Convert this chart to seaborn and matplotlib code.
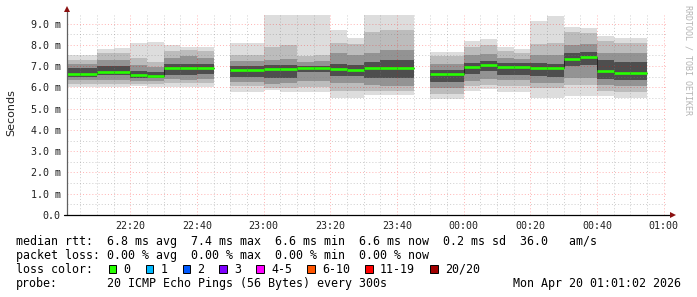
import numpy as np
import pandas as pd
import matplotlib
matplotlib.use("Agg")
import matplotlib.pyplot as plt
import seaborn as sns
from matplotlib.patches import Rectangle

# ---------------- data (5-minute bins, values in ms) ----------------
bin_start = ["22:00", "22:05", "22:10", "22:15", "22:20", "22:25", "22:30", "22:35",
             "22:40", "22:45", "22:50", "22:55", "23:00", "23:05", "23:10", "23:15",
             "23:20", "23:25", "23:30", "23:35", "23:40", "23:45", "23:50", "23:55",
             "00:00", "00:05", "00:10", "00:15", "00:20", "00:25", "00:30", "00:35",
             "00:40", "00:45", "00:50"]
nan = np.nan
rtt_max = [7.54, 7.54, 7.79, 7.86, 8.07, 8.12, 8.01, 7.90, 7.90, nan, 8.07, 8.07,
           9.60, 9.60, 9.60, 9.60, 8.69, 8.34, 9.60, 9.60, 9.60, nan, 7.64, 7.64,
           8.17, 8.26, 7.90, 7.78, 9.12, 9.34, 8.84, 8.80, 8.42, 8.31, 8.31]
rtt_hi2 = [7.28, 7.28, 7.60, 7.62, 7.40, 7.20, 7.72, 7.75, 7.72, nan, 7.50, 7.50,
           7.90, 8.00, 7.45, 7.50, 8.10, 8.05, 8.60, 8.70, 8.70, nan, 7.45, 7.45,
           7.90, 8.00, 7.70, 7.62, 8.05, 8.10, 8.60, 8.55, 8.20, 8.10, 8.10]
rtt_hi3 = [7.10, 7.10, 7.30, 7.30, 7.05, 6.95, 7.40, 7.45, 7.40, nan, 7.25, 7.25,
           7.30, 7.35, 7.20, 7.25, 7.60, 7.50, 7.60, 7.75, 7.75, nan, 7.10, 7.10,
           7.50, 7.55, 7.40, 7.35, 7.50, 7.50, 8.00, 8.05, 7.60, 7.60, 7.60]
rtt_hi4 = [6.90, 6.90, 6.98, 7.00, 6.78, 6.70, 7.10, 7.10, 7.08, nan, 7.02, 7.02,
           7.05, 7.05, 7.02, 7.02, 7.10, 7.05, 7.20, 7.30, 7.30, nan, 6.80, 6.80,
           7.15, 7.25, 7.15, 7.15, 7.15, 7.10, 7.60, 7.65, 7.30, 7.20, 7.20]
rtt_median = [6.63, 6.63, 6.72, 6.74, 6.58, 6.55, 6.89, 6.92, 6.92, nan, 6.83, 6.83,
              6.84, 6.84, 6.90, 6.90, 6.84, 6.80, 6.89, 6.89, 6.89, nan, 6.61, 6.61,
              6.96, 7.04, 6.97, 6.97, 6.93, 6.90, 7.35, 7.43, 6.77, 6.66, 6.66]
rtt_lo4 = [6.50, 6.50, 6.57, 6.57, 6.46, 6.45, 6.60, 6.60, 6.62, nan, 6.50, 6.50,
           6.45, 6.45, 6.70, 6.70, 6.55, 6.55, 6.45, 6.45, 6.45, nan, 6.25, 6.25,
           6.65, 6.75, 6.60, 6.60, 6.55, 6.50, 7.00, 7.05, 6.40, 6.35, 6.35]
rtt_lo3 = [6.33, 6.33, 6.36, 6.36, 6.30, 6.30, 6.38, 6.35, 6.38, nan, 6.25, 6.25,
           6.15, 6.20, 6.30, 6.30, 6.20, 6.20, 6.10, 6.05, 6.05, nan, 5.95, 5.95,
           6.30, 6.40, 6.35, 6.35, 6.20, 6.20, 6.45, 6.45, 6.10, 6.05, 6.05]
rtt_lo2 = [6.17, 6.17, 6.18, 6.18, 6.16, 6.15, 6.20, 6.22, 6.22, nan, 6.05, 6.05,
           5.98, 5.95, 6.00, 6.00, 5.85, 5.85, 5.85, 5.85, 5.85, nan, 5.70, 5.70,
           6.05, 6.10, 6.05, 6.05, 5.95, 5.95, 6.10, 6.10, 5.85, 5.80, 5.80]
rtt_min = [6.00, 6.00, 6.00, 6.00, 6.06, 6.03, 6.00, 6.00, 6.00, nan, 5.79, 5.79,
           5.87, 5.79, 5.79, 5.79, 5.52, 5.48, 5.63, 5.63, 5.63, nan, 5.43, 5.43,
           5.84, 5.90, 5.79, 5.79, 5.52, 5.52, 5.59, 5.59, 5.59, 5.52, 5.52]

ytick_values = [0, 1, 2, 3, 4, 5, 6, 7, 8, 9]
ytick_labels = ["0.0", "1.0 m", "2.0 m", "3.0 m", "4.0 m", "5.0 m",
                "6.0 m", "7.0 m", "8.0 m", "9.0 m"]
xtick_labels = ["22:20", "22:40", "23:00", "23:20", "23:40", "00:00",
                "00:20", "00:40", "01:00"]
view_start, view_end = "22:01:02", "01:01:02"

stat_avg, stat_max, stat_min, stat_now, stat_sd, stat_ams = 6.8, 7.4, 6.6, 6.6, 0.2, 36.0
loss_avg, loss_max, loss_min, loss_now = 0.00, 0.00, 0.00, 0.00
loss_labels = ["0", "1", "2", "3", "4-5", "6-10", "11-19", "20/20"]
loss_colors = ["#26ff00", "#00b8ff", "#0059ff", "#7e00ff", "#ff00ff",
               "#ff5500", "#ff0000", "#a10000"]
probe_text = "20 ICMP Echo Pings (56 Bytes) every 300s"
stamp_text = "Mon Apr 20 01:01:02 2026"
STEP = 5  # minutes per bin


def to_min(s):
    parts = [int(p) for p in s.split(":")]
    h, m = parts[0], parts[1]
    sec = parts[2] if len(parts) > 2 else 0
    t = h * 60 + m + sec / 60.0 - 22 * 60
    return t if t >= 0 else t + 1440


x0 = np.array([to_min(s) for s in bin_start], float)
valid = ~np.isnan(np.array(rtt_median, float))

# contiguous runs of valid bins
runs, cur = [], []
for i, ok in enumerate(valid):
    if ok and (not cur or x0[i] == x0[cur[-1]] + STEP):
        cur.append(i)
    elif ok:
        runs.append(cur); cur = [i]
    else:
        if cur:
            runs.append(cur)
        cur = []
if cur:
    runs.append(cur)

sns.set_theme(style="white")
plt.rcParams["font.family"] = ["DejaVu Sans"]
mono = "DejaVu Sans Mono"

W, H = 697, 297
fig = plt.figure(figsize=(W / 100, H / 100), dpi=100)
fig.patch.set_facecolor("white")
ax = fig.add_axes([67 / W, 82 / H, 600 / W, 200 / H])
ax.set_facecolor("white")

# smoke bands
bands = [(rtt_max, rtt_min, "#dddddd"), (rtt_hi2, rtt_lo2, "#bcbcbc"),
         (rtt_hi3, rtt_lo3, "#939393"), (rtt_hi4, rtt_lo4, "#4e4e4e")]
for hi, lo, col in bands:
    hi = np.array(hi, float); lo = np.array(lo, float)
    for r in runs:
        edges = np.append(x0[r], x0[r[-1]] + STEP)
        ax.stairs(hi[r], edges, baseline=lo[r], fill=True, color=col,
                  linewidth=0, zorder=1)

# median: thin dark step line + green horizontal segment per bin
rows = []
for k, r in enumerate(runs):
    for i in r:
        rows.append({"x": x0[i], "median": rtt_median[i], "seg": k, "bin": i})
        rows.append({"x": x0[i] + STEP, "median": rtt_median[i], "seg": k, "bin": i})
med_df = pd.DataFrame(rows)
sns.lineplot(data=med_df, x="x", y="median", units="seg", estimator=None,
             sort=False, color="#1e1e1e", linewidth=0.6, ax=ax,
             legend=False, zorder=3.6)
sns.lineplot(data=med_df, x="x", y="median", units="bin", estimator=None,
             sort=False, color=loss_colors[0], linewidth=1.9, ax=ax,
             legend=False, zorder=4)
for ln in ax.lines[-len(valid[valid]):]:
    ln.set_solid_capstyle("butt")

# axes, ticks, grid
ax.set_xlim(to_min(view_start), to_min(view_end))
ax.set_ylim(0, 9.4)
xt = [to_min(s) for s in xtick_labels]
ax.set_xticks(xt, xtick_labels)
ax.set_xticks(np.arange(STEP, to_min(view_end), STEP), minor=True)
ax.set_yticks(ytick_values, ytick_labels)
ax.set_yticks(np.arange(0.5, 9.4, 1.0), minor=True)
ax.set_xlabel(""); ax.set_ylabel("")
for lab in ax.get_xticklabels() + ax.get_yticklabels():
    lab.set_fontfamily(mono); lab.set_fontsize(7.2); lab.set_color("#202020")
ax.tick_params(axis="both", which="major", length=3, width=0.7, color="#404040",
               direction="inout", pad=3)
ax.tick_params(axis="both", which="minor", length=2, width=0.6, color="#808080",
               direction="inout")
ax.set_axisbelow(False)
ax.grid(which="major", color="#ff0000", alpha=0.3, linewidth=0.7,
        linestyle=(0, (1, 2.2)))
ax.grid(which="minor", color="#808080", alpha=0.4, linewidth=0.7,
        linestyle=(0, (1, 2.2)))
for s in ax.spines.values():
    s.set_visible(False)

# axis lines with arrows
ax.plot([0, 0], [0, 1 + 5 / 200], transform=ax.transAxes, color="#606060",
        lw=0.9, clip_on=False, zorder=6)
ax.plot([-3 / 600, 1 + 5 / 600], [0, 0], transform=ax.transAxes, color="#000000",
        lw=0.9, clip_on=False, zorder=6)
ax.plot([0], [1 + 6 / 200], marker="^", ms=4.5, color="#8b1010",
        transform=ax.transAxes, clip_on=False, zorder=7, mew=0)
ax.plot([1 + 6 / 600], [0], marker=">", ms=4.5, color="#8b1010",
        transform=ax.transAxes, clip_on=False, zorder=7, mew=0)

# labels and legend text
fig.text(11 / W, 1 - 113 / H, "Seconds", rotation=90, ha="center", va="center",
         fontsize=8, color="#202020")
fig.text(688 / W, 1 - 60 / H, "RRDTOOL / TOBI OETIKER", rotation=-90,
         ha="center", va="center", family=mono, fontsize=6, color="#b4b4b4")


def row(x, y, s, **kw):
    fig.text(x / W, 1 - y / H, s, ha=kw.pop("ha", "left"), va="baseline",
             family=mono, fontsize=8.4, color="#000000", **kw)


row(16, 245.3, f"median rtt:  {stat_avg:.1f} ms avg  {stat_max:.1f} ms max  "
    f"{stat_min:.1f} ms min  {stat_now:.1f} ms now  {stat_sd:.1f} ms sd  "
    f"{stat_ams:.1f}   am/s")
row(16, 258.9, f"packet loss: {loss_avg:.2f} % avg  {loss_max:.2f} % max  "
    f"{loss_min:.2f} % min  {loss_now:.2f} % now")
row(16, 272.8, "loss color:")
bx = 108.7
for lab, col in zip(loss_labels, loss_colors):
    fig.patches.append(Rectangle((bx / W, 1 - 272.8 / H), 7.5 / W, 7.5 / H,
                                 transform=fig.transFigure, facecolor=col,
                                 edgecolor="#000000", linewidth=0.7))
    row(bx + 14.6, 272.8, lab)
    bx += 14.6 + 7.02 * len(lab) + 15.3
row(16, 286.6, "probe:")
row(107.3, 286.6, probe_text)
row(681, 286.6, stamp_text, ha="right")

fig.savefig("out.png", dpi=100, facecolor="white")
